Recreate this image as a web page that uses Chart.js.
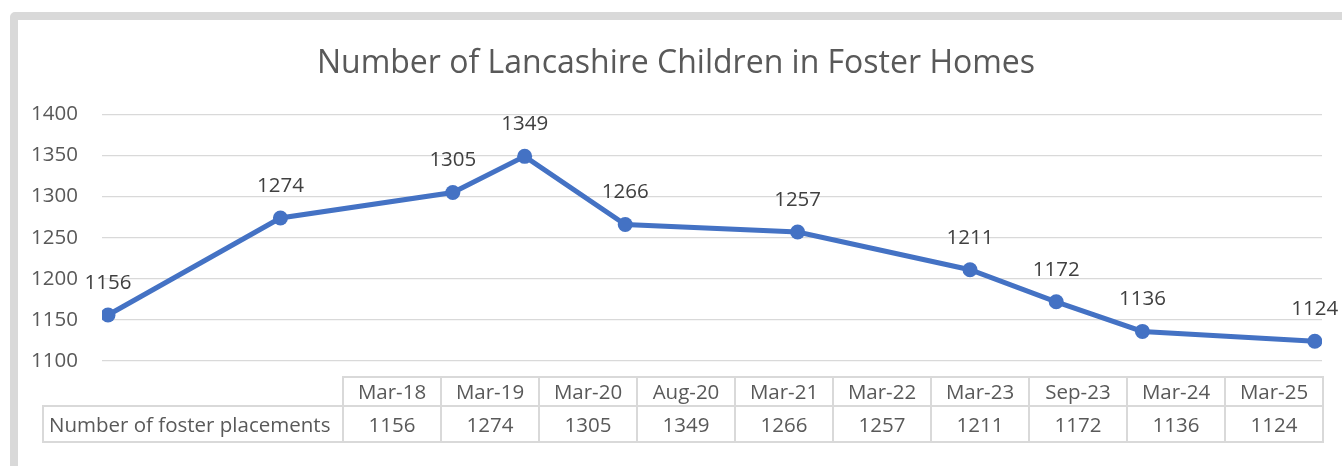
<!DOCTYPE html>
<html>
<head>
<meta charset="utf-8">
<script src="https://cdn.jsdelivr.net/npm/chart.js@4.4.1/dist/chart.umd.min.js"></script>
<style>
  html, body { margin: 0; padding: 0; background: #fff; width: 1342px; height: 466px; overflow: hidden; }
  #frame { position: absolute; left: 10px; top: 12px; width: 1400px; height: 520px; border: 8px solid #d9d9d9; border-radius: 5px; box-sizing: border-box; }
  #wrap { position: absolute; left: 0; top: 0; width: 1342px; height: 466px; }
  #tbl { position: absolute; left: 42px; top: 376px; border-collapse: collapse; font-family: "Open Sans", sans-serif; font-size: 20.5px; color: #595959; }
  #tbl td { border: 2px solid #d9d9d9; text-align: center; padding: 0; white-space: nowrap; line-height: 1; }
  #tbl td.blank { border: none; border-bottom: 2px solid #d9d9d9; }
  #tbl tr.h td { height: 27px; }
  #tbl tr.v td { height: 34px; }
  #tbl td.lbl { text-align: left; padding-left: 5px; width: 293px; }
  #tbl td.c { width: 96px; }
</style>
</head>
<body>
<div id="frame"></div>
<div id="wrap"><canvas id="c" width="1342" height="466"></canvas></div>
<table id="tbl"></table>
<script>
const categories = ["Mar-18", "Mar-19", "Mar-20", "Aug-20", "Mar-21", "Mar-22", "Mar-23", "Sep-23", "Mar-24", "Mar-25"];
const monthsSinceMar18 = [0, 12, 24, 29, 36, 48, 60, 66, 72, 84];
const placements = [1156, 1274, 1305, 1349, 1266, 1257, 1211, 1172, 1136, 1124];
const seriesName = "Number of foster placements";
const yTicks = [1100, 1150, 1200, 1250, 1300, 1350, 1400];
const title = "Number of Lancashire Children in Foster Homes";

const FONT = "'Open Sans', sans-serif";

// Data table (real text)
const tbl = document.getElementById('tbl');
const r1 = document.createElement('tr'); r1.className = 'h';
const b = document.createElement('td'); b.className = 'blank'; r1.appendChild(b);
categories.forEach(c => { const td = document.createElement('td'); td.className = 'c'; td.textContent = c; r1.appendChild(td); });
const r2 = document.createElement('tr'); r2.className = 'v';
const l = document.createElement('td'); l.className = 'lbl'; l.textContent = seriesName; r2.appendChild(l);
placements.forEach(v => { const td = document.createElement('td'); td.className = 'c'; td.textContent = String(v); r2.appendChild(td); });
tbl.appendChild(r1); tbl.appendChild(r2);

const labelPlugin = {
  id: 'pointLabels',
  afterDatasetsDraw(chart) {
    const ctx = chart.ctx;
    const meta = chart.getDatasetMeta(0);
    ctx.save();
    ctx.font = "20.5px " + FONT;
    ctx.fillStyle = "#404040";
    ctx.textAlign = "center";
    ctx.textBaseline = "middle";
    meta.data.forEach((pt, i) => {
      ctx.fillText(String(placements[i]), pt.x, pt.y - 32);
    });
    ctx.restore();
  }
};

new Chart(document.getElementById('c'), {
  type: 'line',
  data: {
    datasets: [{
      label: seriesName,
      data: monthsSinceMar18.map((m, i) => ({ x: m, y: placements[i] })),
      borderColor: '#4472C4',
      backgroundColor: '#4472C4',
      borderWidth: 5,
      pointRadius: 7.5,
      pointBackgroundColor: '#4472C4',
      pointBorderWidth: 0,
      tension: 0
    }]
  },
  options: {
    responsive: false,
    animation: false,
    layout: { padding: { top: 0, left: 30, right: 20, bottom: 105 } },
    plugins: {
      legend: { display: false },
      tooltip: { enabled: false },
      title: {
        display: true,
        text: title,
        color: '#595959',
        font: { family: FONT, size: 32, weight: 'normal', lineHeight: 1.2 },
        padding: { top: 45, bottom: 31 }
      }
    },
    scales: {
      x: {
        type: 'linear',
        min: -0.42,
        max: 84.5,
        display: false
      },
      y: {
        min: 1100,
        max: 1400,
        afterFit(scale) { scale.width = 72; },
        afterBuildTicks(scale) { scale.ticks = yTicks.map(v => ({ value: v })); },
        border: { display: false },
        grid: { color: '#d9d9d9', lineWidth: 1.3, drawTicks: false },
        ticks: { color: '#595959', padding: 24, font: { family: FONT, size: 20.5 }, callback: v => String(v) }
      }
    }
  },
  plugins: [labelPlugin]
});
</script>
</body>
</html>
